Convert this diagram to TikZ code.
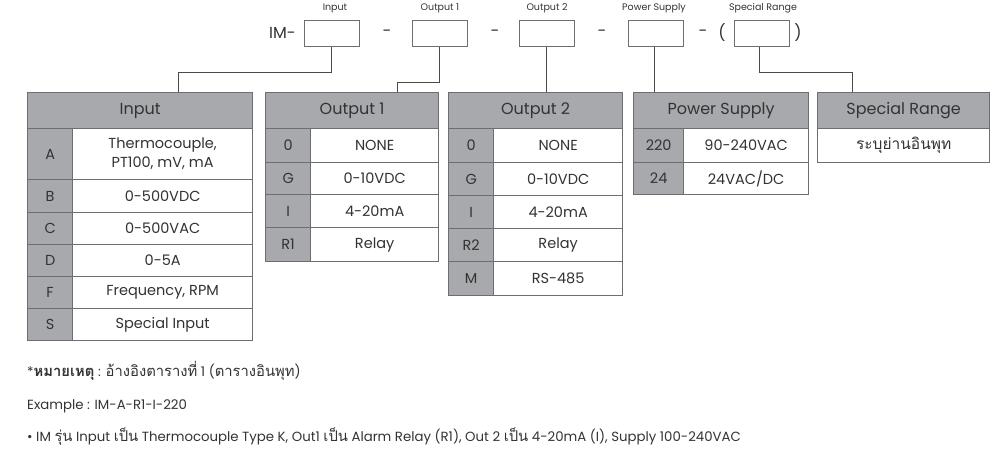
\documentclass[tikz,border=0pt]{standalone}
\usepackage{fontspec}
\setmainfont{Poppins}
\newfontfamily\thaifont[Script=Thai]{Loma}
\definecolor{txt}{HTML}{333333}
\definecolor{hdr}{HTML}{A7A9AC}
\definecolor{brd}{HTML}{6D6E71}
\definecolor{wire}{HTML}{4A4A4A}
\tikzset{
  cell/.style={draw=brd, line width=1.3pt, inner sep=0pt, anchor=north west, text=txt,
    font=\fontsize{14.5}{19}\selectfont, align=center},
  hcell/.style={cell, fill=hdr},
  wcell/.style={cell, fill=white},
  headcell/.style={hcell, font=\fontsize{16}{19}\selectfont},
  topbox/.style={draw=brd, line width=1pt, minimum width=55pt, minimum height=26pt, inner sep=0pt},
  toplabel/.style={text=txt, font=\fontsize{9.5}{11}\selectfont, inner sep=0pt},
  sep/.style={text=txt, font=\fontsize{16}{18}\selectfont, inner sep=0pt},
  wire/.style={draw=wire, line width=0.9pt},
  note/.style={text=txt, font=\fontsize{13.3}{15}\selectfont, inner sep=0pt, anchor=west}
}
\newcommand{\mkcell}[7]{\node[#6,minimum width=#4pt,minimum height=#5pt] (#1) at (#2,#3) {#7};}
\newcommand{\thx}[1]{{\thaifont\fontsize{14.8}{16}\selectfont #1}}
\begin{document}
\begin{tikzpicture}[x=1pt,y=-1pt]
\useasboundingbox (0,0) rectangle (997,452);
% ---- top code line
\node[sep, anchor=center] (im) at (282.5,33) {IM-};
\node[topbox] (bIn) at (331.5,34) {};
\node[sep] (d1) at (387,33) {-};
\node[topbox] (bO1) at (439.5,34) {};
\node[sep] (d2) at (495,33) {-};
\node[topbox] (bO2) at (546.5,34) {};
\node[sep] (d3) at (602,33) {-};
\node[topbox] (bPS) at (655.5,34) {};
\node[sep] (d4) at (703,33) {-};
\node[sep] (p1) at (722,33) {(};
\node[topbox] (bSR) at (762,34) {};
\node[sep] (p2) at (798,33) {)};
\node[toplabel] (lIn) at (335,8) {Input};
\node[toplabel] (lO1) at (440,8) {Output 1};
\node[toplabel] (lO2) at (547,8) {Output 2};
\node[toplabel] (lPS) at (654,8) {Power Supply};
\node[toplabel] (lSR) at (763,8) {Special Range};
% ---- Input table
\mkcell{hIn}{27}{92}{225}{36}{headcell}{Input}
\mkcell{kA}{27}{128}{45}{51}{hcell}{A}
\mkcell{vA}{72}{128}{180}{51}{wcell}{Thermocouple,\\PT100, mV, mA}
\mkcell{kB}{27}{179}{45}{33}{hcell}{B}
\mkcell{vB}{72}{179}{180}{33}{wcell}{0-500VDC}
\mkcell{kC}{27}{212}{45}{32}{hcell}{C}
\mkcell{vC}{72}{212}{180}{32}{wcell}{0-500VAC}
\mkcell{kD}{27}{244}{45}{32}{hcell}{D}
\mkcell{vD}{72}{244}{180}{32}{wcell}{0-5A}
\mkcell{kF}{27}{276}{45}{32}{hcell}{F}
\mkcell{vF}{72}{276}{180}{32}{wcell}{Frequency, RPM}
\mkcell{kS}{27}{308}{45}{32}{hcell}{S}
\mkcell{vS}{72}{308}{180}{32}{wcell}{Special Input}
% ---- Output 1 table
\mkcell{hO1}{265}{92}{173}{36}{headcell}{Output 1}
\mkcell{k10}{265}{128}{45}{34}{hcell}{0}
\mkcell{v10}{310}{128}{128}{34}{wcell}{NONE}
\mkcell{k1G}{265}{162}{45}{32}{hcell}{G}
\mkcell{v1G}{310}{162}{128}{32}{wcell}{0-10VDC}
\mkcell{k1I}{265}{194}{45}{33}{hcell}{I}
\mkcell{v1I}{310}{194}{128}{33}{wcell}{4-20mA}
\mkcell{k1R}{265}{227}{45}{34}{hcell}{R1}
\mkcell{v1R}{310}{227}{128}{34}{wcell}{Relay}
% ---- Output 2 table
\mkcell{hO2}{448}{92}{174}{36}{headcell}{Output 2}
\mkcell{k20}{448}{128}{45}{34}{hcell}{0}
\mkcell{v20}{493}{128}{129}{34}{wcell}{NONE}
\mkcell{k2G}{448}{162}{45}{33}{hcell}{G}
\mkcell{v2G}{493}{162}{129}{33}{wcell}{0-10VDC}
\mkcell{k2I}{448}{195}{45}{33}{hcell}{I}
\mkcell{v2I}{493}{195}{129}{33}{wcell}{4-20mA}
\mkcell{k2R}{448}{228}{45}{33}{hcell}{R2}
\mkcell{v2R}{493}{228}{129}{33}{wcell}{Relay}
\mkcell{k2M}{448}{261}{45}{34}{hcell}{M}
\mkcell{v2M}{493}{261}{129}{34}{wcell}{RS-485}
% ---- Power supply table
\mkcell{hPS}{633}{92}{175}{36}{headcell}{Power Supply}
\mkcell{kP1}{633}{128}{50}{34}{hcell}{220}
\mkcell{vP1}{683}{128}{125}{34}{wcell}{90-240VAC}
\mkcell{kP2}{633}{162}{50}{32}{hcell}{24}
\mkcell{vP2}{683}{162}{125}{32}{wcell}{24VAC/DC}
% ---- Special range table
\mkcell{hSR}{817}{92}{172}{36}{headcell}{Special Range}
\mkcell{vSR}{817}{128}{172}{34}{wcell}{{\thaifont\fontsize{15.5}{18}\selectfont ระบุย่านอินพุท}}
% ---- connectors
\coordinate (jIn) at (178,72);
\coordinate (jO1) at (397,82);
\coordinate (jSR) at (852,72);
\draw[wire] (bIn.south) |- (jIn) -- (jIn |- hIn.north);
\draw[wire] (bO1.south) |- (jO1) -- (jO1 |- hO1.north);
\draw[wire] (bO2.south) -- (bO2.south |- hO2.north);
\draw[wire] ([xshift=-1.5pt]bPS.south) -- ([xshift=-1.5pt]bPS.south |- hPS.north);
\draw[wire] ([xshift=-3pt]bSR.south) |- (jSR) -- (jSR |- hSR.north);
% ---- notes
\node[note] (n1) at (27,371) {*{\thaifont\bfseries\fontsize{14.8}{16}\selectfont หมายเหตุ} : \thx{อ้างอิงตารางที่} 1 (\thx{ตารางอินพุท})};
\node[note] (n2) at (27,406) {Example : IM-A-R1-I-220};
\node[note] (n3) at (27,437) {• IM \thx{รุ่น} Input \thx{เป็น} Thermocouple Type K, Out1 \thx{เป็น} Alarm Relay (R1), Out 2 \thx{เป็น} 4-20mA (I), Supply 100-240VAC};
\end{tikzpicture}
\end{document}
